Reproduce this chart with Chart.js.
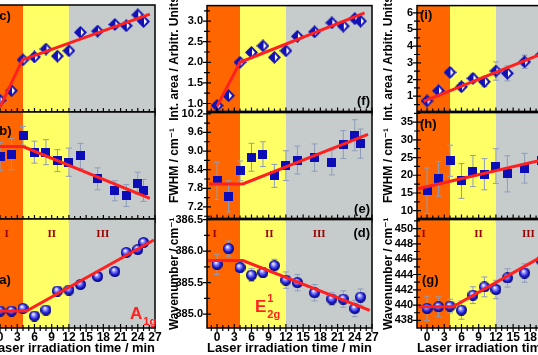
<!doctype html>
<html lang="en">
  <head>
    <meta charset="UTF-8" />
    <title>Raman modes under laser irradiation</title>
    <script src="https://cdn.jsdelivr.net/npm/chart.js"></script>
    <style>
      body {
        margin: 0;
        width: 538px;
        height: 355px;
        overflow: hidden;
        position: relative;
        background: #fff;
      }
      canvas {
        position: absolute;
      }
    </style>
  </head>
  <body>
    <script>
      // irradiation times (min)
      const times = [0, 2, 4, 6, 8, 10, 12, 14, 17, 20, 22, 24, 25];
      // right column: later points fall outside the picture
      const timesW = [0, 2, 4, 6, 8, 10, 12, 14, 17, 20];

      // left column (A1g), its y axis is cut off in the picture
      const areaA1g = [1.09, 1.32, 2.06, 2.13, 2.32, 2.15, 2.28, 2.72, 2.75, 2.91, 2.88, 3.14, 2.98];
      const fwhmA1g = [8.82, 8.9, 9.48, 8.96, 8.96, 8.69, 8.64, 8.84, 8.11, 7.73, 7.58, 7.97, 7.74];
      const fwhmA1gErr = [0.45, 0.5, 0.3, 0.35, 0.4, 0.35, 0.45, 0.4, 0.35, 0.32, 0.35, 0.35, 0.35];
      const waveA1g = [407.34, 407.34, 407.39, 407.24, 407.36, 407.74, 407.76, 407.87, 408.03, 408.13, 408.51, 408.57, 408.71];

      // middle column (E1 2g)
      const areaE = [0.95, 1.19, 2.0, 2.24, 2.4, 2.12, 2.28, 2.63, 2.74, 2.96, 2.88, 3.06, 3.0];
      const fwhmE = [8.04, 7.54, 8.36, 8.8, 8.9, 8.2, 8.53, 8.71, 8.79, 8.63, 9.21, 9.51, 9.24];
      const fwhmEErr = [0.6, 0.5, 0.32, 0.45, 0.4, 0.37, 0.48, 0.45, 0.44, 0.4, 0.45, 0.5, 0.47];
      const waveE = [385.79, 386.04, 385.74, 385.62, 385.66, 385.77, 385.54, 385.5, 385.34, 385.24, 385.24, 385.09, 385.27];
      const waveEErr = [0.16, 0.12, 0.08, 0.1, 0.08, 0.1, 0.13, 0.13, 0.13, 0.1, 0.13, 0.13, 0.13];

      // right column
      const areaW = [0.72, 1.33, 2.43, 1.57, 2.07, 1.87, 2.51, 2.37, 3.06, 3.5];
      const areaWErr = [0.2, 0.25, 0.25, 0.25, 0.25, 0.3, 0.55, 0.45, 0.4, 0.4];
      const fwhmW = [15.64, 19.0, 24.1, 18.4, 21.2, 20.3, 22.6, 20.4, 22.0, 24.1];
      const fwhmWErr = [6.4, 4.9, 4.4, 4.9, 4.4, 4.4, 4.9, 5.1, 4.2, 4.5];
      const waveW = [439.57, 439.78, 439.87, 439.35, 441.3, 442.38, 442.04, 443.55, 444.19, 445.8];
      const waveWErr = [1.6, 1.3, 0.9, 1.2, 1.1, 1.3, 1.2, 1.2, 1.2, 1.1];

      // piecewise linear fits (x in min, y in panel units)
      const fitAreaA1gX = [0, 3.9, 26.1], fitAreaA1gY = [0.93, 2.06, 3.16];
      const fitFwhmA1gX = [-1.75, 4, 26.1], fitFwhmA1gY = [9.14, 9.14, 7.49];
      const fitWaveA1gX = [-1.75, 4.6, 26.8], fitWaveA1gY = [407.34, 407.34, 408.76];
      const fitAreaEX = [0, 4, 25.7], fitAreaEY = [0.93, 2.0, 3.2];
      const fitFwhmEX = [-1.4, 4.5, 26.3], fitFwhmEY = [7.94, 7.94, 9.54];
      const fitWaveEX = [-1.6, 4.5, 26.6], fitWaveEY = [385.85, 385.85, 385.06];
      const fitAreaWX = [-0.6, 27], fitAreaWY = [0.69, 4.51];
      const fitFwhmWX = [-1.6, 27], fitFwhmWY = [16.2, 26.96];
      const fitWaveWX = [-1.5, 4.5, 27], fitWaveWY = [439.78, 439.78, 449.3];

      // axes
      const X_MIN = -1.75, X_MAX = 27;
      const timeMajor = [0, 3, 6, 9, 12, 15, 18, 21, 24, 27];
      const timeMinor = [-1, 1, 2, 4, 5, 7, 8, 10, 11, 13, 14, 16, 17, 19, 20, 22, 23, 25, 26];
      const phaseEdges = [4, 12];
      const phaseNames = ["I", "II", "III"];

      const areaETicks = [1.0, 1.5, 2.0, 2.5, 3.0], areaEMinor = [1.25, 1.75, 2.25, 2.75, 3.25];
      const fwhmETicks = [7.2, 7.8, 8.4, 9.0, 9.6, 10.2], fwhmEMinor = [6.9, 7.5, 8.1, 8.7, 9.3, 9.9];
      const waveETicks = [385.0, 385.5, 386.0, 386.5], waveEMinor = [385.25, 385.75, 386.25];
      const areaWTicks = [1, 2, 3, 4, 5, 6], areaWMinor = [0.5, 1.5, 2.5, 3.5, 4.5, 5.5];
      const fwhmWTicks = [10, 15, 20, 25, 30, 35], fwhmWMinor = [12.5, 17.5, 22.5, 27.5, 32.5, 37.5];
      const waveWTicks = [438, 440, 442, 444, 446, 448, 450], waveWMinor = [439, 441, 443, 445, 447, 449, 451];

      const TITLE_AREA = "Int. area / Arbitr. Units";
      const TITLE_FWHM = "FWHM / cm\u207B\u00B9";
      const TITLE_WAVE = "Wavenumber / cm\u207B\u00B9";

      // ---- look ----
      const FONT = "'Liberation Sans', Arial, 'DejaVu Sans', sans-serif";
      const SERIF = "'Liberation Serif', 'Times New Roman', serif";
      const RED = "#ff2020";
      const phaseColors = ["#ff6600", "#ffff66", "#c6cccc"];
      const AREA_W = 165, AXIS_W = 42, PAD = 10, PAD_R = 14, X_AXIS_H = 27;
      // the left column's y axis sits outside the picture
      const columns = [
        { left: -10, titlePad: 4 },
        { left: 207, titlePad: 4 },
        { left: 417, titlePad: 8 },
      ];
      const rows = [
        { top: 5, h: 107 },
        { top: 112, h: 107 },
        { top: 219, h: 109 },
      ];

      Chart.defaults.font.family = FONT;
      Chart.defaults.font.weight = "bold";
      Chart.defaults.color = "#000";

      function markerCanvas(size, draw) {
        const c = document.createElement("canvas");
        c.width = c.height = size;
        draw(c.getContext("2d"), size);
        return c;
      }
      const markers = {
        diamond: markerCanvas(13, (g, s) => {
          const h = s / 2;
          g.fillStyle = "#1212b4";
          g.beginPath();
          g.moveTo(h, 0); g.lineTo(s, h); g.lineTo(h, s); g.lineTo(0, h);
          g.closePath(); g.fill();
          g.fillStyle = "#ffffff";
          g.beginPath();
          g.moveTo(h + 0.5, 3); g.lineTo(s - 3, h); g.lineTo(h + 0.5, s - 3);
          g.closePath(); g.fill();
        }),
        square: markerCanvas(9, (g, s) => {
          g.fillStyle = "#0d0db8";
          g.fillRect(0, 0, s, s);
        }),
        sphere: markerCanvas(11, (g, s) => {
          const grd = g.createRadialGradient(s * 0.38, s * 0.32, 0.3, s / 2, s / 2, s / 2);
          grd.addColorStop(0, "#ffffff");
          grd.addColorStop(0.3, "#8c8cff");
          grd.addColorStop(0.7, "#1c1cd0");
          grd.addColorStop(1, "#00006a");
          g.fillStyle = grd;
          g.beginPath();
          g.arc(s / 2, s / 2, s / 2, 0, Math.PI * 2);
          g.fill();
        }),
      };

      const panels = [
        { col: 0, row: 0, xs: times, ys: areaA1g, fitX: fitAreaA1gX, fitY: fitAreaA1gY, yMin: 0.808, yMax: 3.377, marker: "diamond",
          letter: { text: "(c)", left: 5, top: 11 } },
        { col: 0, row: 1, xs: times, ys: fwhmA1g, err: fwhmA1gErr, fitX: fitFwhmA1gX, fitY: fitFwhmA1gY, yMin: 6.83, yMax: 10.24, marker: "square",
          letter: { text: "(b)", left: 5, top: 19 } },
        { col: 0, row: 2, xs: times, ys: waveA1g, fitX: fitWaveA1gX, fitY: fitWaveA1gY, yMin: 407.0, yMax: 409.18, marker: "sphere",
          letter: { text: "(a)", left: 5, top: 61 }, romans: [1.15, 9.0, 17.9], mode: { main: "A", sub: "1g", right: 25, bottom: 9 } },
        { col: 1, row: 0, xs: times, ys: areaE, fitX: fitAreaEX, fitY: fitAreaEY, yMin: 0.808, yMax: 3.377, marker: "diamond",
          major: areaETicks, minor: areaEMinor, dec: 1, title: TITLE_AREA, letter: { text: "(f)", right: 2, bottom: 10 } },
        { col: 1, row: 1, xs: times, ys: fwhmE, err: fwhmEErr, fitX: fitFwhmEX, fitY: fitFwhmEY, yMin: 6.83, yMax: 10.24, marker: "square",
          major: fwhmETicks, minor: fwhmEMinor, dec: 1, title: TITLE_FWHM, letter: { text: "(e)", right: 2, bottom: 9 } },
        { col: 1, row: 2, xs: times, ys: waveE, err: waveEErr, fitX: fitWaveEX, fitY: fitWaveEY, yMin: 384.78, yMax: 386.5, marker: "sphere",
          major: waveETicks, minor: waveEMinor, dec: 1, title: TITLE_WAVE, letter: { text: "(d)", right: 2, top: 14 },
          romans: [-0.43, 9.1, 17.8], mode: { main: "E", sup: "1", sub: "2g", left: 48, bottom: 16 } },
        { col: 2, row: 0, xs: timesW, ys: areaW, err: areaWErr, fitX: fitAreaWX, fitY: fitAreaWY, yMin: 0.09, yMax: 6.43, marker: "diamond",
          major: areaWTicks, minor: areaWMinor, dec: 0, title: TITLE_AREA, letter: { text: "(i)", left: 3, top: 10 } },
        { col: 2, row: 1, xs: timesW, ys: fwhmW, err: fwhmWErr, fitX: fitFwhmWX, fitY: fitFwhmWY, yMin: 7.82, yMax: 37.7, marker: "square",
          major: fwhmWTicks, minor: fwhmWMinor, dec: 0, title: TITLE_FWHM, letter: { text: "(h)", left: 3, top: 12 } },
        { col: 2, row: 2, xs: timesW, ys: waveW, err: waveWErr, fitX: fitWaveWX, fitY: fitWaveWY, yMin: 437.01, yMax: 451.17, marker: "sphere",
          major: waveWTicks, minor: waveWMinor, dec: 0, title: TITLE_WAVE, letter: { text: "(g)", left: 5, top: 61 },
          romans: [-0.6, 8.95, 17.65] },
      ];

      const toPoints = (xs, ys) => xs.map((x, i) => ({ x, y: ys[i] }));
      const tickObjs = (major, minor) =>
        major.map((v) => ({ value: v, major: true }))
          .concat(minor.map((v) => ({ value: v, major: false })))
          .sort((a, b) => a.value - b.value);

      const errorBars = {
        id: "errorBars",
        beforeDatasetsDraw(chart) {
          const { ctx, chartArea: a, scales: { x, y } } = chart;
          ctx.save();
          ctx.beginPath();
          ctx.rect(a.left, a.top, a.right - a.left, a.bottom - a.top);
          ctx.clip();
          ctx.strokeStyle = "#8e9cba";
          ctx.lineWidth = 1;
          chart.data.datasets.forEach((ds) => {
            if (!ds.errors) return;
            ds.data.forEach((pt, i) => {
              const px = x.getPixelForValue(pt.x);
              const t = y.getPixelForValue(pt.y + ds.errors[i]);
              const b = y.getPixelForValue(pt.y - ds.errors[i]);
              ctx.beginPath();
              ctx.moveTo(px, t); ctx.lineTo(px, b);
              ctx.moveTo(px - 3, t); ctx.lineTo(px + 3, t);
              ctx.moveTo(px - 3, b); ctx.lineTo(px + 3, b);
              ctx.stroke();
            });
          });
          ctx.restore();
        },
      };

      function makeFrame(p) {
        return {
          id: "frame",
          beforeDatasetsDraw(chart) {
            const { ctx, chartArea: a, scales: { x } } = chart;
            const edges = [X_MIN, ...phaseEdges, X_MAX];
            ctx.save();
            for (let i = 0; i < phaseColors.length; i++) {
              const x0 = x.getPixelForValue(edges[i]);
              const x1 = x.getPixelForValue(edges[i + 1]);
              ctx.fillStyle = phaseColors[i];
              ctx.fillRect(x0, a.top, x1 - x0, a.bottom - a.top);
            }
            ctx.restore();
          },
          afterDatasetsDraw(chart) {
            const { ctx, chartArea: a, scales: { x, y } } = chart;
            ctx.save();
            ctx.strokeStyle = "#000";
            ctx.lineWidth = 1.5;
            ctx.strokeRect(a.left, a.top, a.right - a.left, a.bottom - a.top);
            ctx.lineWidth = 1.2;
            ctx.beginPath();
            x.ticks.forEach((t) => {
              const px = x.getPixelForValue(t.value);
              const len = t.major ? 4 : 3;
              ctx.moveTo(px, a.bottom - len);
              ctx.lineTo(px, a.bottom + len);
            });
            y.ticks.forEach((t) => {
              const py = y.getPixelForValue(t.value);
              const len = t.major ? 4 : 3;
              ctx.moveTo(a.left - len, py);
              ctx.lineTo(a.left + len, py);
            });
            ctx.stroke();

            // panel letter
            const L = p.letter;
            ctx.fillStyle = "#000";
            ctx.font = "bold 13px " + FONT;
            ctx.textBaseline = "middle";
            ctx.textAlign = L.right !== undefined ? "right" : "left";
            const lx = L.right !== undefined ? a.right - L.right : a.left + L.left;
            const ly = L.bottom !== undefined ? a.bottom - L.bottom : a.top + L.top;
            ctx.fillText(L.text, lx, ly);

            // phase numerals
            if (p.romans) {
              ctx.fillStyle = "#990000";
              ctx.font = "bold 11px " + SERIF;
              ctx.textAlign = "center";
              p.romans.forEach((v, i) => ctx.fillText(phaseNames[i], x.getPixelForValue(v), a.top + 15));
            }

            // Raman mode label
            if (p.mode) {
              const m = p.mode;
              ctx.fillStyle = RED;
              ctx.textAlign = "left";
              ctx.textBaseline = "alphabetic";
              ctx.font = "bold 17px " + FONT;
              const mx = m.right !== undefined ? a.right - m.right : a.left + m.left;
              const my = a.bottom - m.bottom;
              ctx.fillText(m.main, mx, my);
              const w = ctx.measureText(m.main).width;
              ctx.font = "bold 11px " + FONT;
              if (m.sup) ctx.fillText(m.sup, mx + w + 1, my - 10);
              if (m.sub) ctx.fillText(m.sub, mx + w + 1, my + 6);
            }
            ctx.restore();
          },
        };
      }

      function makePanel(p) {
        const col = columns[p.col], row = rows[p.row];
        const bottomRow = p.row === 2;
        const cv = document.createElement("canvas");
        const w = AXIS_W + AREA_W + PAD_R;
        const h = PAD + row.h + (bottomRow ? X_AXIS_H : PAD);
        cv.width = w;
        cv.height = h;
        cv.style.left = col.left - AXIS_W + "px";
        cv.style.top = row.top - PAD + "px";
        cv.style.width = w + "px";
        cv.style.height = h + "px";
        document.body.appendChild(cv);

        new Chart(cv, {
          type: "scatter",
          data: {
            datasets: [
              { data: toPoints(p.xs, p.ys), errors: p.err, pointStyle: markers[p.marker], pointRadius: 5, order: 1 },
              { data: toPoints(p.fitX, p.fitY), showLine: true, borderColor: RED, borderWidth: 3, pointRadius: 0, order: 0 },
            ],
          },
          options: {
            responsive: false,
            animation: false,
            devicePixelRatio: 1,
            events: [],
            layout: { padding: { left: 0, top: PAD, right: PAD_R, bottom: bottomRow ? 0 : PAD } },
            plugins: { legend: { display: false }, tooltip: { enabled: false } },
            scales: {
              x: {
                type: "linear",
                min: X_MIN,
                max: X_MAX,
                display: bottomRow,
                afterBuildTicks: (s) => { s.ticks = tickObjs(timeMajor, timeMinor); },
                afterFit: (s) => { if (bottomRow) s.height = X_AXIS_H; },
                grid: { display: false, drawTicks: false },
                border: { display: false },
                ticks: {
                  autoSkip: false,
                  maxRotation: 0,
                  padding: 2,
                  font: { size: 12, weight: "bold" },
                  callback: (v, i, t) => (t[i].major ? String(v) : ""),
                },
                title: {
                  display: true,
                  text: "Laser irradiation time / min",
                  font: { size: 13, weight: "bold", lineHeight: 1 },
                  padding: 0,
                },
              },
              y: {
                type: "linear",
                min: p.yMin,
                max: p.yMax,
                afterBuildTicks: (s) => { s.ticks = tickObjs(p.major || [], p.minor || []); },
                afterFit: (s) => { s.width = AXIS_W; },
                grid: { display: false, drawTicks: false },
                border: { display: false },
                ticks: {
                  autoSkip: false,
                  padding: 4,
                  font: { size: 11, weight: "bold" },
                  callback: (v, i, t) => (t[i].major ? v.toFixed(p.dec) : ""),
                },
                title: {
                  display: !!p.title,
                  text: p.title || "",
                  font: { size: 12, weight: "bold", lineHeight: 1 },
                  padding: { top: col.titlePad, bottom: 0 },
                },
              },
            },
          },
          plugins: [makeFrame(p), errorBars],
        });
      }

      panels.forEach(makePanel);
    </script>
  </body>
</html>
